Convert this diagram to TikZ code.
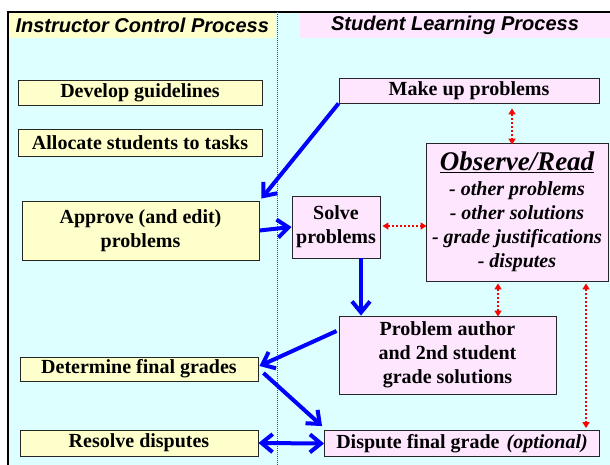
\documentclass[tikz,border=0pt]{standalone}
\usepackage{fontspec}
\setmainfont{Liberation Serif}
\setsansfont{Liberation Sans}
\usetikzlibrary{arrows.meta}

\definecolor{bgcyan}{RGB}{221,255,255}
\definecolor{boxyellow}{RGB}{255,255,204}
\definecolor{boxpink}{RGB}{255,230,255}

\tikzset{
    ybox/.style={draw=black!85, line width=0.9pt, fill=boxyellow, inner sep=0pt,
        align=center, font=\fontsize{20}{24}\selectfont\bfseries},
    pbox/.style={ybox, fill=boxpink},
    header/.style={font=\sffamily\bfseries\itshape\fontsize{20}{22}\selectfont},
    flow/.style={draw=blue, line width=4pt, -{Straight Barb[length=11pt,width=18pt]}},
    link/.style={draw=red, line width=2pt, dash pattern=on 2pt off 2pt,
        {Triangle[length=6pt,width=7pt]}-{Triangle[length=6pt,width=7pt]}},
}

\begin{document}
\begin{tikzpicture}[x=1pt,y=-1pt]
    \useasboundingbox (0,0) rectangle (610,465);
    \fill[white] (0,0) rectangle (610,465);
    \fill[bgcyan] (8,12) rectangle (610,465);
    \fill[boxyellow] (8,12) rectangle (276,38);
    \fill[boxpink] (300,12) rectangle (610,38);
    \draw[line width=1.2pt] (8,465) -- (8,12) -- (610,12);
    \draw[red, line width=1pt, dash pattern=on 1pt off 1pt] (277,12) -- (277,465);

    \node[header, anchor=west] at (12,25.5)(hinst){Instructor Control Process};
    \node[header] at (455,25.5)(hstud){Student Learning Process};

    % instructor side
    \node[ybox, minimum width=244pt, minimum height=25pt] at (140,92.5)(dev){Develop guidelines};
    \node[ybox, minimum width=244pt, minimum height=27pt] at (140,142.5)(alloc){Allocate students to tasks};
    \node[ybox, minimum width=237pt, minimum height=59pt] at (140.5,230.5)(approve){Approve (and edit)\\problems};
    \node[ybox, minimum width=238pt, minimum height=24pt] at (139,369)(determine){Determine final grades};
    \node[ybox, minimum width=238pt, minimum height=26pt] at (139,443)(resolve){Resolve disputes};

    % student side
    \node[pbox, minimum width=260pt, minimum height=25pt] at (469,90.5)(makeup){Make up problems};
    \node[pbox, minimum width=88pt, minimum height=62pt] at (336,227)(solve){Solve\\problems};
    \node[pbox, minimum width=182pt, minimum height=138pt,
        font=\fontsize{20}{24}\selectfont\bfseries\itshape] at (517,212)(obs)
        {{\fontsize{27}{30}\selectfont\underline{Observe/Read}}\\[1pt]
         - other problems\\- other solutions\\- grade justifications\\- disputes};
    \node[pbox, minimum width=217pt, minimum height=78pt] at (447.5,355)(author)
        {Problem author\\and 2nd student\\grade solutions};
    \node[pbox, minimum width=275pt, minimum height=26pt] at (462,443.5)(dispute)
        {Dispute final grade\hspace{7pt}\textit{(optional)}};

    \path[flow]
        (makeup.south west) -- ([shift={(2,-2)}]approve.north east);
    \path[flow] (approve.east) -- (solve.west);
    \path[flow] ([xshift=25]solve.south) -- ([xshift=25]solve.south |- author.north);
    \path[flow] ([shift={(-2,-24)}]author.west) -- ([shift={(1,-3)}]determine.east);
    \path[flow] ([shift={(5,4)}]determine.east) -- ([shift={(-2,-4)}]dispute.north west);
    \path[flow, {Straight Barb[length=11pt,width=18pt]}-{Straight Barb[length=11pt,width=18pt]}]
        (resolve.east) -- (dispute.west);

    \path[link, shorten >=3pt] ([shift={(43,5)}]makeup.south) -- ([shift={(43,5)}]makeup.south |- obs.north);
    \path[link, shorten >=1pt] ([shift={(2,-1)}]solve.east) -- ([shift={(2,-1)}]solve.east -| obs.west);
    \path[link, shorten >=1pt] ([shift={(-19,2)}]obs.south) -- ([shift={(-19,2)}]obs.south |- author.north);
    \path[link, shorten >=4pt] ([shift={(69,2)}]obs.south) -- ([shift={(69,2)}]obs.south |- dispute.north);
\end{tikzpicture}
\end{document}
